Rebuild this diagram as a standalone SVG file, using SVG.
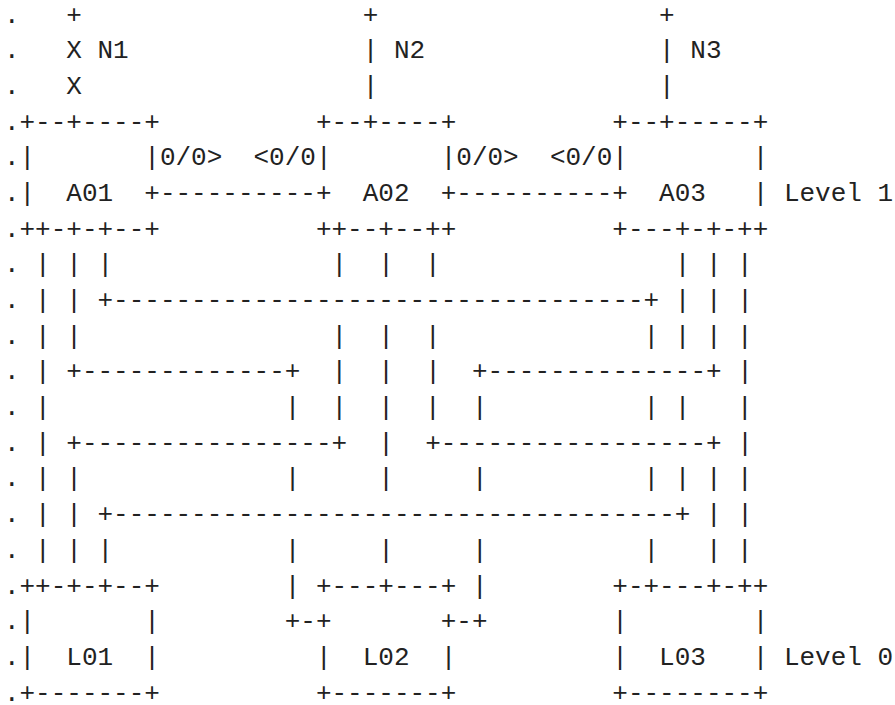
<svg xmlns="http://www.w3.org/2000/svg" width="895" height="705" viewBox="0 0 895 705" xml:space="preserve">
  <style>
    text { font-family: "Liberation Mono", "DejaVu Sans Mono", monospace; font-size: 26px; fill: #222; white-space: pre; }
  </style>
  <rect width="895" height="705" fill="#fff"/>

  <!-- left margin dots -->
  <g id="margin">
    <text x="3.9" y="22.6">.</text>
    <text x="3.9" y="58.3">.</text>
    <text x="3.9" y="94.0">.</text>
    <text x="3.9" y="129.6">.</text>
    <text x="3.9" y="165.3">.</text>
    <text x="3.9" y="201.0">.</text>
    <text x="3.9" y="236.7">.</text>
    <text x="3.9" y="272.4">.</text>
    <text x="3.9" y="308.0">.</text>
    <text x="3.9" y="343.7">.</text>
    <text x="3.9" y="379.4">.</text>
    <text x="3.9" y="415.1">.</text>
    <text x="3.9" y="450.8">.</text>
    <text x="3.9" y="486.4">.</text>
    <text x="3.9" y="522.1">.</text>
    <text x="3.9" y="557.8">.</text>
    <text x="3.9" y="593.5">.</text>
    <text x="3.9" y="629.2">.</text>
    <text x="3.9" y="664.8">.</text>
    <text x="3.9" y="700.5">.</text>
  </g>

  <!-- prefixes attached above the level 1 nodes -->
  <g id="N1">
    <text x="66.3" y="22.6">+</text>
    <text x="66.3" y="58.3">X N1</text>
    <text x="66.3" y="94.0">X</text>
  </g>
  <g id="N2">
    <text x="362.7" y="22.6">+</text>
    <text x="362.7" y="58.3">| N2</text>
    <text x="362.7" y="94.0">|</text>
  </g>
  <g id="N3">
    <text x="659.1" y="22.6">+</text>
    <text x="659.1" y="58.3">| N3</text>
    <text x="659.1" y="94.0">|</text>
  </g>

  <!-- level 1 nodes -->
  <g id="A01">
    <text x="19.5" y="129.6">+--+----+</text>
    <text x="19.5" y="165.3">|       |</text>
    <text x="19.5" y="201.0">|  A01  +</text>
    <text x="19.5" y="236.7">++-+-+--+</text>
  </g>
  <g id="A02">
    <text x="315.9" y="129.6">+--+----+</text>
    <text x="315.9" y="165.3">|       |</text>
    <text x="315.9" y="201.0">+  A02  +</text>
    <text x="315.9" y="236.7">++--+--++</text>
  </g>
  <g id="A03">
    <text x="612.3" y="129.6">+--+-----+</text>
    <text x="612.3" y="165.3">|        |</text>
    <text x="612.3" y="201.0">+  A03   |</text>
    <text x="612.3" y="236.7">+---+-+-++</text>
  </g>

  <!-- level 0 nodes -->
  <g id="L01">
    <text x="19.5" y="593.5">++-+-+--+</text>
    <text x="19.5" y="629.2">|       |</text>
    <text x="19.5" y="664.8">|  L01  |</text>
    <text x="19.5" y="700.5">+-------+</text>
  </g>
  <g id="L02">
    <text x="315.9" y="593.5">+---+---+</text>
    <text x="315.9" y="629.2">+       +</text>
    <text x="315.9" y="664.8">|  L02  |</text>
    <text x="315.9" y="700.5">+-------+</text>
  </g>
  <g id="L03">
    <text x="612.3" y="593.5">+-+---+-++</text>
    <text x="612.3" y="629.2">|        |</text>
    <text x="612.3" y="664.8">|  L03   |</text>
    <text x="612.3" y="700.5">+--------+</text>
  </g>

  <!-- level labels -->
  <g id="levels">
    <text x="783.9" y="201.0">Level 1</text>
    <text x="783.9" y="664.8">Level 0</text>
  </g>

  <!-- links: east-west level 1 links and north-south links -->
  <g id="links">
    <text x="159.9" y="165.3">0/0&gt;  &lt;0/0</text>
    <text x="456.3" y="165.3">0/0&gt;  &lt;0/0</text>
    <text x="159.9" y="201.0">----------</text>
    <text x="456.3" y="201.0">----------</text>

    <text x="35.1" y="272.4">| | |</text>
    <text x="331.5" y="272.4">|  |  |</text>
    <text x="674.7" y="272.4">| | |</text>

    <text x="35.1" y="308.0">| | +----------------------------------+ | | |</text>

    <text x="35.1" y="343.7">| |</text>
    <text x="331.5" y="343.7">|  |  |</text>
    <text x="643.5" y="343.7">| | | |</text>

    <text x="35.1" y="379.4">| +-------------+  |  |  |  +--------------+ |</text>

    <text x="35.1" y="415.1">|</text>
    <text x="284.7" y="415.1">|  |  |  |  |</text>
    <text x="643.5" y="415.1">| |   |</text>

    <text x="35.1" y="450.8">| +----------------+  |  +-----------------+ |</text>

    <text x="35.1" y="486.4">| |</text>
    <text x="284.7" y="486.4">|     |     |</text>
    <text x="643.5" y="486.4">| | | |</text>

    <text x="35.1" y="522.1">| | +------------------------------------+ | |</text>

    <text x="35.1" y="557.8">| | |</text>
    <text x="284.7" y="557.8">|     |     |</text>
    <text x="643.5" y="557.8">|   | |</text>

    <text x="284.7" y="593.5">|</text>
    <text x="471.9" y="593.5">|</text>
    <text x="284.7" y="629.2">+-</text>
    <text x="456.3" y="629.2">-+</text>
  </g>
</svg>
